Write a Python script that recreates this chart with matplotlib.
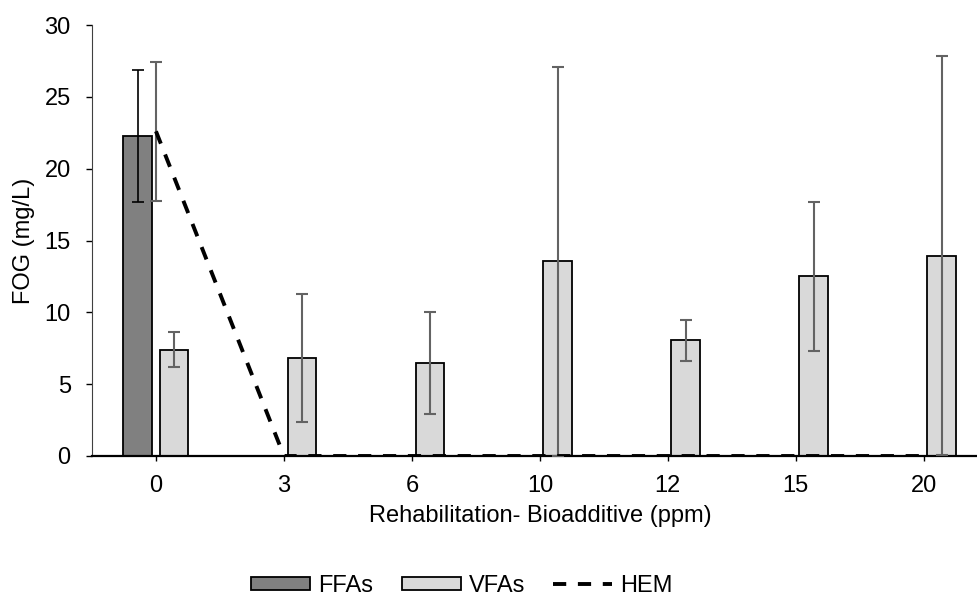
import numpy as np
import matplotlib.pyplot as plt
from matplotlib.lines import Line2D

plt.rcParams['font.family'] = ['Liberation Sans', 'DejaVu Sans']

doses = ['0', '3', '6', '10', '12', '15', '20']
ffa = [22.3, 0, 0, 0, 0, 0, 0]
ffa_err = [4.6, 0, 0, 0, 0, 0, 0]
vfa = [7.4, 6.85, 6.5, 13.55, 8.05, 12.5, 13.95]
vfa_err = [1.2, 4.45, 3.55, 13.55, 1.45, 5.2, 13.9]
hem = [22.6, 0, 0, 0, 0, 0, 0]
hem_err = [4.85, 0, 0, 0, 0, 0, 0]

x = np.arange(len(doses))
w = 0.226
fs = 17
dash = (0, (3.4, 3.0))

fig = plt.figure(figsize=(9.78, 5.96), dpi=100)
ax = fig.add_axes([92/978, 1 - 456/596, 1 - 92/978 + 0.01, (456 - 25)/596])

ax.bar(x - 0.143, ffa, w, color='#808080', edgecolor='black', linewidth=1.3, zorder=2)
ax.bar(x + 0.141, vfa, w, color='#d9d9d9', edgecolor='black', linewidth=1.3, zorder=2)
ax.errorbar(x[:1] - 0.143, ffa[:1], yerr=ffa_err[:1], fmt='none', ecolor='black',
            elinewidth=1.2, capsize=4.5, capthick=1.2, zorder=3)
ax.errorbar(x + 0.141, vfa, yerr=vfa_err, fmt='none', ecolor='#636363',
            elinewidth=1.5, capsize=4.5, capthick=1.5, zorder=3)
ax.plot(x, hem, color='black', linestyle=dash, linewidth=2.8, zorder=4)
ax.errorbar(x[:1], hem[:1], yerr=hem_err[:1], fmt='none', ecolor='#636363',
            elinewidth=1.5, capsize=4.5, capthick=1.5, zorder=3)

ax.set_xlim(-0.5, 6.5)
ax.set_ylim(0, 30)
ax.set_yticks(range(0, 31, 5))
ax.set_xticks(x)
ax.set_xticklabels(doses)
ax.tick_params(axis='both', labelsize=fs, colors='black', width=1)
ax.tick_params(axis='y', length=4.3, pad=11)
ax.tick_params(axis='x', length=3.6, pad=10)
for s in ['top', 'right']:
    ax.spines[s].set_visible(False)
ax.spines['left'].set_color('#404040')
ax.spines['bottom'].set_linewidth(1.6)
ax.set_xlabel('Rehabilitation- Bioadditive (ppm)', fontsize=fs, labelpad=6)
ax.set_ylabel('FOG (mg/L)', fontsize=fs, labelpad=7)

handles = [
    plt.Rectangle((0, 0), 1, 1, facecolor='#808080', edgecolor='black', linewidth=1.3),
    plt.Rectangle((0, 0), 1, 1, facecolor='#d9d9d9', edgecolor='black', linewidth=1.3),
    Line2D([0], [0], color='black', linestyle=dash, linewidth=2.8),
]
fig.legend(handles, ['FFAs', 'VFAs', 'HEM'], loc='center', bbox_to_anchor=(0.4724, 1 - 586/596),
           ncol=3, frameon=False, fontsize=fs, handlelength=2.5, handleheight=0.5,
           handletextpad=0.34, columnspacing=1.2)

fig.savefig('out.png', dpi=100)
